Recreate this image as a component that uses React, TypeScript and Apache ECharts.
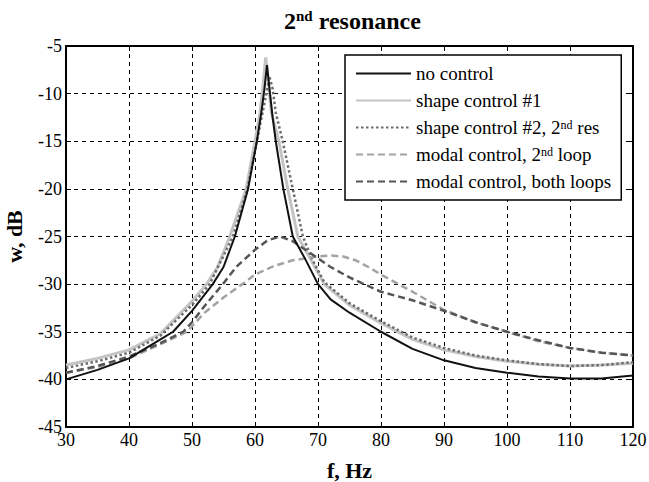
import React, { useEffect, useRef } from "react";
import * as echarts from "echarts";

const FONT = "Liberation Serif, Times New Roman, serif";

// Frequency axis ticks / value axis range
const xTicks = { min: 30, max: 120, step: 10 };
const yTicks = { min: -45, max: -5, step: 5 };

const seriesNames = [
  "no control",
  "shape control #1",
  "shape control #2, 2nd res",
  "modal control, 2nd loop",
  "modal control, both loops",
];

// no control
const noControlF = [30, 35, 40, 45, 47, 50, 53.3, 55, 56.8, 58.9, 60.3, 61.0, 61.5, 61.9, 62.3, 62.8, 63.3, 64.5, 66.0, 68, 70, 72, 75, 80, 85, 90, 95, 100, 105, 110, 115, 120];
const noControlDb = [-40.0, -39.0, -37.8, -35.8, -35.0, -32.8, -30, -28.2, -25, -20, -15, -12, -9.5, -7.0, -9.5, -12.5, -15, -20, -25, -27.4, -30, -31.6, -33, -35, -36.8, -38.0, -38.8, -39.3, -39.7, -39.9, -39.9, -39.6];

// shape control #1
const shape1F = [30, 35, 40, 45, 50, 52.3, 54, 56.0, 58.6, 60.0, 60.8, 61.3, 61.7, 62.1, 62.6, 63.8, 65.2, 66.8, 68.5, 71, 75, 80, 85, 90, 95, 100, 105, 110, 115, 120];
const shape1Db = [-38.5, -37.8, -36.9, -35.2, -31.8, -30, -28.3, -25, -20, -15, -12, -9, -6.2, -8.5, -12, -15, -20, -25, -27.0, -30, -32.2, -34.1, -35.8, -36.9, -37.6, -38.1, -38.4, -38.6, -38.5, -38.3];

// shape control #2, 2nd res
const shape2F = [30, 35, 40, 45, 50, 52.8, 56.5, 58.8, 60.3, 61.2, 61.8, 62.3, 62.8, 63.3, 64.4, 66.0, 67.6, 69, 71, 75, 80, 85, 90, 95, 100, 105, 110, 115, 120];
const shape2Db = [-38.8, -38.1, -37.2, -35.4, -32.2, -30, -25, -20, -15, -12, -10, -8.2, -9.5, -12, -15, -20, -25, -27.3, -29.8, -32.0, -33.9, -35.6, -36.7, -37.5, -38.0, -38.4, -38.6, -38.5, -38.2];

// modal control, 2nd loop
const modal2F = [30, 35, 40, 45, 49.2, 52, 55, 58, 60, 63, 66, 70, 72, 74, 76, 78, 80, 85, 90, 95, 100, 105, 110, 115, 120];
const modal2Db = [-39.3, -38.7, -37.8, -36.3, -35, -33.0, -31.4, -30.0, -29.0, -28.1, -27.5, -27.1, -27.0, -27.1, -27.5, -28.2, -29.0, -30.8, -32.7, -34.0, -35.0, -36.0, -36.7, -37.2, -37.5];

// modal control, both loops
const modalBothF = [30, 35, 40, 45, 48.6, 50, 52, 54.9, 57, 60, 62, 64, 66, 68, 70, 72, 75, 80, 85, 90, 95, 100, 105, 110, 115, 120];
const modalBothDb = [-39.3, -38.6, -37.6, -36.2, -35, -34.0, -32.3, -30, -28.2, -26.4, -25.4, -25.0, -25.5, -26.4, -27.3, -28.2, -29.3, -30.8, -31.7, -32.8, -34.0, -35.0, -35.9, -36.7, -37.2, -37.5];

const pairs = (xs: number[], ys: number[]) => xs.map((x, i) => [x, ys[i]]);

const richSup = {
  sup: { fontSize: 12, fontFamily: FONT, color: "#000", verticalAlign: "top", padding: [0, 0, 7, 0] },
};

const lineColors = ["#111", "#c4c4c4", "#6e6e6e", "#a3a3a3", "#555"];

export default function App() {
  const ref = useRef<HTMLDivElement>(null);
  useEffect(() => {
    if (!ref.current) return;
    const chart = echarts.init(ref.current, null, { renderer: "svg" });
    const axisLineStyle = { color: "#000", width: 2 };
    const gridLine = { show: true, lineStyle: { color: "#000", type: [4, 4], width: 1 } };
    const tick = { inside: true, length: 5, lineStyle: { color: "#000", width: 1 } };
    const label = { color: "#000", fontFamily: FONT, fontSize: 18 };
    const nameStyle = { color: "#000", fontFamily: FONT, fontSize: 22, fontWeight: "bold" };
    chart.setOption({
      animation: false,
      backgroundColor: "#fff",
      color: lineColors,
      title: {
        text: "2{sup|nd} resonance",
        left: 279,
        top: 3,
        textStyle: {
          fontFamily: FONT,
          fontSize: 24,
          fontWeight: "bold",
          color: "#000",
          rich: { sup: { fontSize: 15, fontWeight: "bold", fontFamily: FONT, color: "#000", verticalAlign: "top", padding: [0, 0, 10, 0] } },
        },
      },
      grid: { left: 66, right: 16, top: 46, bottom: 55, containLabel: false, outerBoundsMode: "none" },
      xAxis: [
        {
          type: "value",
          min: xTicks.min,
          max: xTicks.max,
          interval: xTicks.step,
          position: "bottom",
          axisLine: { show: true, lineStyle: axisLineStyle },
          axisTick: tick,
          axisLabel: { ...label, margin: 4 },
          splitLine: gridLine,
          name: "f, Hz",
          nameLocation: "middle",
          nameGap: 32,
          nameTextStyle: nameStyle,
        },
        {
          type: "value",
          min: xTicks.min,
          max: xTicks.max,
          interval: xTicks.step,
          position: "top",
          axisLine: { show: true, lineStyle: axisLineStyle },
          axisTick: tick,
          axisLabel: { show: false },
          splitLine: { show: false },
        },
      ],
      yAxis: [
        {
          type: "value",
          min: yTicks.min,
          max: yTicks.max,
          interval: yTicks.step,
          position: "left",
          axisLine: { show: true, lineStyle: axisLineStyle },
          axisTick: tick,
          axisLabel: { ...label, margin: 4 },
          splitLine: gridLine,
          name: "w, dB",
          nameLocation: "middle",
          nameGap: 41,
          nameTextStyle: nameStyle,
        },
        {
          type: "value",
          min: yTicks.min,
          max: yTicks.max,
          interval: yTicks.step,
          position: "right",
          axisLine: { show: true, lineStyle: axisLineStyle },
          axisTick: tick,
          axisLabel: { show: false },
          splitLine: { show: false },
        },
      ],
      legend: {
        data: seriesNames,
        orient: "vertical",
        left: 345,
        top: 55,
        backgroundColor: "#fff",
        borderColor: "#000",
        borderWidth: 1.5,
        borderRadius: 0,
        padding: [9, 10, 9, 10],
        itemWidth: 55,
        itemHeight: 16,
        itemGap: 8,
        selectedMode: false,
        itemStyle: { opacity: 0, borderWidth: 0 },
        formatter: (name: string) => name.replace(/2nd/, "2{sup|nd}"),
        textStyle: {
          fontFamily: FONT,
          fontSize: 19,
          color: "#000",
          lineHeight: 17,
          rich: richSup,
        },
      },
      series: [
        {
          name: seriesNames[0],
          type: "line",
          data: pairs(noControlF, noControlDb),
          showSymbol: false,
          symbol: "none",
          z: 3,
          itemStyle: { color: lineColors[0] },
          lineStyle: { color: lineColors[0], width: 2 },
        },
        {
          name: seriesNames[1],
          type: "line",
          data: pairs(shape1F, shape1Db),
          showSymbol: false,
          symbol: "none",
          z: 1,
          itemStyle: { color: lineColors[1] },
          lineStyle: { color: lineColors[1], width: 3 },
        },
        {
          name: seriesNames[2],
          type: "line",
          data: pairs(shape2F, shape2Db),
          showSymbol: false,
          symbol: "none",
          z: 2,
          itemStyle: { color: lineColors[2] },
          lineStyle: { color: lineColors[2], width: 2.5, type: [2.5, 2.5] },
        },
        {
          name: seriesNames[3],
          type: "line",
          data: pairs(modal2F, modal2Db),
          showSymbol: false,
          symbol: "none",
          z: 2,
          itemStyle: { color: lineColors[3] },
          lineStyle: { color: lineColors[3], width: 2.5, type: [7, 4] },
        },
        {
          name: seriesNames[4],
          type: "line",
          data: pairs(modalBothF, modalBothDb),
          showSymbol: false,
          symbol: "none",
          z: 2,
          itemStyle: { color: lineColors[4] },
          lineStyle: { color: lineColors[4], width: 2.5, type: [7, 4] },
        },
      ],
    });
    return () => chart.dispose();
  }, []);
  return (
    <div
      ref={ref}
      style={{ position: "fixed", left: 0, top: 0, width: 649, height: 482, background: "#fff" }}
    />
  );
}
